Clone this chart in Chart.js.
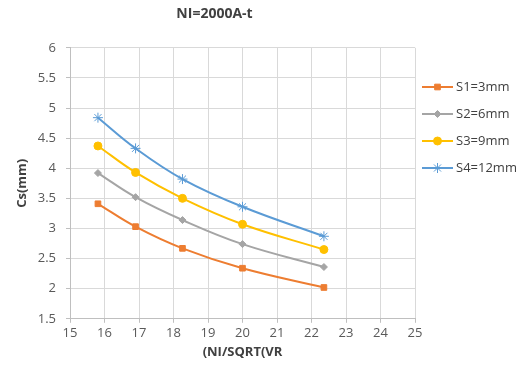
<!DOCTYPE html>
<html>
<head>
<meta charset="utf-8">
<script src="https://cdn.jsdelivr.net/npm/chart.js@4"></script>
<style>
  html, body { margin: 0; padding: 0; background: #fff; }
  #wrap { width: 524px; height: 369px; position: relative; }
</style>
</head>
<body>
<div id="wrap"><canvas id="chart"></canvas></div>
<script>
// x = NI / sqrt(VR)
const xValues = [15.81, 16.90, 18.26, 20.00, 22.36];
const s1 = [3.41, 3.03, 2.67, 2.34, 2.02];
const s2 = [3.92, 3.52, 3.14, 2.74, 2.36];
const s3 = [4.37, 3.93, 3.50, 3.07, 2.65];
const s4 = [4.84, 4.33, 3.82, 3.36, 2.87];
const seriesNames = ['S1=3mm', 'S2=6mm', 'S3=9mm', 'S4=12mm'];

const font = "'Open Sans', 'Liberation Sans', sans-serif";

const toPoints = ys => ys.map((y, i) => ({ x: xValues[i], y: y }));

const styles = [
  { color: '#ED7D31', point: 'rect', radius: 4 },
  { color: '#A5A5A5', point: 'rectRot', radius: 3.5 },
  { color: '#FFC000', point: 'circle', radius: 4 },
  { color: '#5B9BD5', point: 'star', radius: 5 }
];

const datasets = [s1, s2, s3, s4].map((ys, i) => ({
  label: seriesNames[i],
  data: toPoints(ys),
  borderColor: styles[i].color,
  backgroundColor: styles[i].color,
  pointStyle: styles[i].point,
  pointRadius: styles[i].radius,
  pointBorderWidth: 1,
  borderWidth: 2,
  tension: 0.4,
  showLine: true
}));

// legend drawn as line + marker, like the source
const lineLegend = {
  id: 'lineLegend',
  afterDraw(chart) {
    const ctx = chart.ctx;
    const x0 = 422, y0 = 87, gap = 27;
    ctx.save();
    chart.data.datasets.forEach((ds, i) => {
      const y = y0 + i * gap;
      ctx.strokeStyle = ds.borderColor;
      ctx.lineWidth = 2;
      ctx.beginPath();
      ctx.moveTo(x0, y);
      ctx.lineTo(x0 + 31, y);
      ctx.stroke();
      ctx.fillStyle = ds.backgroundColor;
      ctx.lineWidth = 1;
      Chart.helpers.drawPoint(ctx, { pointStyle: ds.pointStyle, radius: ds.pointRadius, borderWidth: 1 }, x0 + 15.5, y);
      ctx.fillStyle = '#404040';
      ctx.font = '13px ' + font;
      ctx.textBaseline = 'middle';
      ctx.textAlign = 'left';
      ctx.fillText(ds.label, x0 + 34, y);
    });
    ctx.restore();
  }
};

new Chart(document.getElementById('chart'), {
  type: 'scatter',
  data: { datasets: datasets },
  plugins: [lineLegend],
  options: {
    responsive: true,
    maintainAspectRatio: false,
    animation: false,
    layout: { padding: { left: 14, right: 109, top: 0, bottom: 9 } },
    plugins: {
      legend: { display: false },
      tooltip: { enabled: false },
      title: {
        display: true,
        text: 'NI=2000A-t',
        color: '#404040',
        font: { family: font, size: 14, weight: 'bold' },
        padding: { top: 6, bottom: 25 }
      }
    },
    scales: {
      x: {
        type: 'linear',
        min: 15,
        max: 25,
        ticks: { stepSize: 1, color: '#595959', font: { family: font, size: 13 }, padding: 3 },
        grid: { color: '#D9D9D9', tickLength: 4, tickColor: '#BFBFBF' },
        border: { color: '#BFBFBF' },
        title: {
          display: true,
          text: '(NI/SQRT(VR',
          color: '#404040',
          font: { family: font, size: 13, weight: 'bold' },
          padding: { top: 0, bottom: 0 }
        }
      },
      y: {
        min: 1.5,
        max: 6,
        afterFit(scale) { scale.width = 56; },
        ticks: {
          stepSize: 0.5,
          color: '#595959',
          font: { family: font, size: 13 },
          padding: 10,
          callback: v => String(Math.round(v * 10) / 10)
        },
        grid: { color: '#D9D9D9', tickLength: 4, tickColor: '#BFBFBF' },
        border: { color: '#BFBFBF' },
        title: {
          display: true,
          text: 'Cs(mm)',
          color: '#404040',
          font: { family: font, size: 13, weight: 'bold' },
          padding: { top: 0, bottom: 4 }
        }
      }
    }
  }
});
</script>
</body>
</html>
